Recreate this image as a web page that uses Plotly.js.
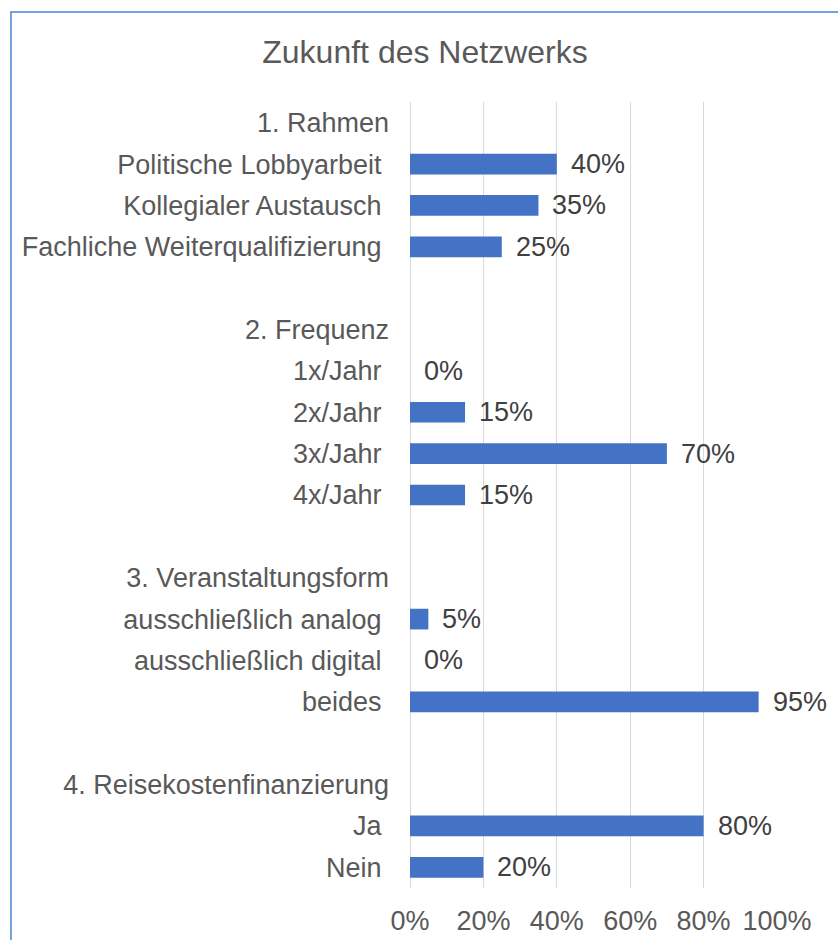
<!DOCTYPE html>
<html>
<head>
<meta charset="utf-8">
<script src="https://cdn.plot.ly/plotly-3.0.1.min.js"></script>
<style>
  html, body { margin: 0; padding: 0; background: #ffffff; }
  #wrap { position: relative; width: 838px; height: 940px; overflow: hidden; }
  #chart { width: 838px; height: 940px; }
  #frame { position: absolute; left: 10px; top: 11px; width: 900px; height: 1000px;
           border-left: 2px solid #72A3DC; border-top: 2px solid #72A3DC; pointer-events: none; }
</style>
</head>
<body>
<div id="wrap">
  <div id="chart"></div>
  <div id="frame"></div>
</div>
<script>
const chartTitle = "Zukunft des Netzwerks";
const categories = [
  "1. Rahmen", "Politische Lobbyarbeit", "Kollegialer Austausch", "Fachliche Weiterqualifizierung", "",
  "2. Frequenz", "1x/Jahr", "2x/Jahr", "3x/Jahr", "4x/Jahr", "",
  "3. Veranstaltungsform", "ausschließlich analog", "ausschließlich digital", "beides", "",
  "4. Reisekostenfinanzierung", "Ja", "Nein"
];
const values = [
  null, 0.40, 0.35, 0.25, null,
  null, 0.00, 0.15, 0.70, 0.15, null,
  null, 0.05, 0.00, 0.95, null,
  null, 0.80, 0.20
];
const xTickValues = [0, 0.2, 0.4, 0.6, 0.8, 1.0];

const positions = categories.map((_, i) => i);
const tickText = categories.map((c, i) => values[i] === null ? c : c + "\u00a0");

const FONT = '"Liberation Sans", Arial, sans-serif';

const trace = {
  type: "bar",
  orientation: "h",
  x: values,
  y: positions,
  width: 0.5,
  marker: { color: "#4472C4" },
  hoverinfo: "skip",
  cliponaxis: false
};

const annotations = [];
values.forEach((v, i) => {
  if (v === null) return;
  annotations.push({
    x: v, y: positions[i], xref: "x", yref: "y",
    text: Math.round(v * 100) + "%",
    showarrow: false, xanchor: "left", yanchor: "middle", xshift: 12,
    font: { family: FONT, size: 27, color: "#404040" }
  });
});

const layout = {
  width: 838, height: 940,
  margin: { l: 410, r: 61, t: 102, b: 52 },
  paper_bgcolor: "#ffffff",
  plot_bgcolor: "#ffffff",
  font: { family: FONT, color: "#595959" },
  title: {
    text: chartTitle,
    font: { family: FONT, size: 32, color: "#595959" },
    x: 425 / 838, xanchor: "center", xref: "container",
    y: 1 - 52 / 940, yanchor: "middle", yref: "container"
  },
  showlegend: false,
  xaxis: {
    range: [0, 1],
    tickvals: xTickValues,
    tickformat: ".0%",
    showgrid: true, gridcolor: "#D9D9D9", gridwidth: 1,
    zeroline: true, zerolinecolor: "#D9D9D9", zerolinewidth: 1,
    showline: false, ticks: "",
    tickfont: { family: FONT, size: 27, color: "#595959" },
    ticklabelstandoff: 14,
    fixedrange: true
  },
  yaxis: {
    range: [18.5, -0.5],
    tickvals: positions,
    ticktext: tickText,
    showgrid: false, zeroline: false, showline: false, ticks: "",
    tickfont: { family: FONT, size: 27, color: "#595959" },
    ticklabelstandoff: 20,
    fixedrange: true
  },
  annotations: annotations
};

Plotly.newPlot("chart", [trace], layout, { displayModeBar: false, staticPlot: true });
</script>
</body>
</html>
